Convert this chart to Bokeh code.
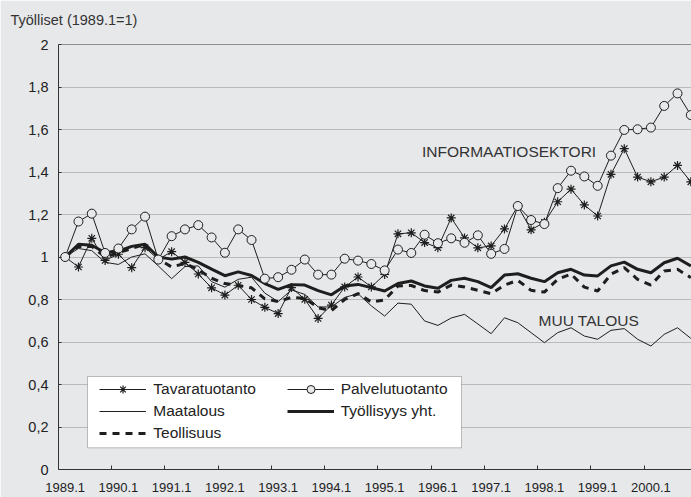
from bokeh.plotting import figure
from bokeh.models import (FixedTicker, Range1d, Legend, LegendItem, Label, Span,
                          BoxAnnotation, ColumnDataSource)
from bokeh.embed import file_html
from bokeh.resources import INLINE

# ---------------- data (quarterly, 1989.1 = 1) ----------------
quarters = list(range(48))
tick_labels = ["1989.1", "1990.1", "1991.1", "1992.1", "1993.1", "1994.1",
               "1995.1", "1996.1", "1997.1", "1998.1", "1999.1", "2000.1"]
y_ticks = [0, 0.2, 0.4, 0.6, 0.8, 1.0, 1.2, 1.4, 1.6, 1.8, 2.0]
y_tick_labels = ["0", "0,2", "0,4", "0,6", "0,8", "1", "1,2", "1,4", "1,6", "1,8", "2"]

tavaratuotanto = [1.000, 0.953, 1.088, 0.984, 1.013, 0.950, 1.044, 0.989, 1.025, 0.975,
                  0.920, 0.855, 0.821, 0.867, 0.800, 0.763, 0.734, 0.856, 0.801, 0.711,
                  0.774, 0.859, 0.906, 0.859, 0.918, 1.109, 1.114, 1.068, 1.044, 1.184,
                  1.090, 1.043, 1.052, 1.132, 1.240, 1.128, 1.163, 1.260, 1.319, 1.245,
                  1.193, 1.389, 1.510, 1.376, 1.354, 1.376, 1.431, 1.354]
palvelutuotanto = [1.000, 1.167, 1.204, 1.019, 1.040, 1.130, 1.190, 0.988, 1.098, 1.130,
                   1.150, 1.092, 1.020, 1.130, 1.080, 0.898, 0.905, 0.940, 0.988, 0.917,
                   0.917, 0.992, 0.983, 0.967, 0.937, 1.035, 1.019, 1.105, 1.065, 1.088,
                   1.067, 1.102, 1.015, 1.038, 1.240, 1.174, 1.155, 1.324, 1.406, 1.379,
                   1.335, 1.477, 1.598, 1.601, 1.609, 1.711, 1.770, 1.668]
maatalous = [1.000, 1.040, 1.030, 0.975, 0.965, 1.000, 1.015, 0.958, 0.898, 0.955,
             0.958, 0.884, 0.858, 0.895, 0.905, 0.830, 0.790, 0.845, 0.824, 0.765,
             0.765, 0.810, 0.827, 0.770, 0.722, 0.783, 0.778, 0.699, 0.678, 0.713,
             0.730, 0.685, 0.639, 0.714, 0.691, 0.644, 0.597, 0.644, 0.667, 0.628,
             0.613, 0.655, 0.663, 0.613, 0.581, 0.636, 0.667, 0.617]
teollisuus = [1.000, 1.050, 1.050, 1.000, 1.020, 1.040, 1.060, 0.990, 0.953, 0.970,
              0.940, 0.900, 0.875, 0.866, 0.855, 0.803, 0.790, 0.810, 0.806, 0.761,
              0.748, 0.800, 0.828, 0.788, 0.798, 0.864, 0.866, 0.842, 0.835, 0.868,
              0.859, 0.843, 0.827, 0.868, 0.890, 0.843, 0.835, 0.895, 0.920, 0.858,
              0.840, 0.919, 0.950, 0.895, 0.868, 0.934, 0.942, 0.903]
tyollisyys = [1.000, 1.060, 1.055, 1.020, 1.027, 1.050, 1.060, 1.000, 0.990, 1.000,
              0.975, 0.943, 0.912, 0.930, 0.913, 0.875, 0.848, 0.870, 0.868, 0.842,
              0.822, 0.864, 0.871, 0.856, 0.840, 0.875, 0.887, 0.864, 0.853, 0.890,
              0.900, 0.884, 0.856, 0.915, 0.921, 0.900, 0.884, 0.926, 0.942, 0.915,
              0.911, 0.958, 0.976, 0.942, 0.926, 0.973, 0.994, 0.958]

# ---------------- styling ----------------
BG = "#e7e8ea"
INK = "#1e1e1e"
FONT = "Liberation Sans"

src = ColumnDataSource(dict(x=quarters, tav=tavaratuotanto, pal=palvelutuotanto,
                            maa=maatalous, teo=teollisuus, tyo=tyollisyys))

p = figure(width=691, height=497, output_backend="svg", toolbar_location=None,
           x_range=Range1d(-0.5, 47.05), y_range=Range1d(0, 2),
           min_border_left=58, min_border_right=0, min_border_top=44,
           min_border_bottom=28)
p.background_fill_color = BG
p.border_fill_color = BG
p.outline_line_color = None

# title (a trailing blank line lifts it away from the frame)
p.title.text = "Työlliset (1989.1=1)\n "
p.title.align = "left"
p.title.offset = -48
p.title.text_font = FONT
p.title.text_font_size = "14.5px"
p.title.text_line_height = 0.75
p.title.text_font_style = "normal"
p.title.text_color = "#333333"
p.title.standoff = 10

# axes
label_ticks = [4 * k for k in range(len(tick_labels))]
minor = [4 * k - 0.5 for k in range(1, 13)]
p.xaxis.ticker = FixedTicker(ticks=label_ticks, minor_ticks=minor)
p.xaxis.major_label_overrides = {t: l for t, l in zip(label_ticks, tick_labels)}
p.xaxis.major_tick_line_color = None
p.xaxis.minor_tick_in = 4
p.xaxis.minor_tick_out = 0
p.xaxis.minor_tick_line_color = "#333333"
p.xaxis.major_label_text_font = FONT
p.xaxis.major_label_text_font_size = "13px"
p.xaxis.major_label_text_color = "#222222"
p.xaxis.major_label_standoff = 7
p.xaxis.axis_line_color = "#333333"

p.yaxis.ticker = FixedTicker(ticks=y_ticks, minor_ticks=[])
p.yaxis.major_label_overrides = {t: l for t, l in zip(y_ticks, y_tick_labels)}
p.yaxis.major_tick_in = 3
p.yaxis.major_tick_out = 0
p.yaxis.major_tick_line_color = "#333333"
p.yaxis.major_label_text_font = FONT
p.yaxis.major_label_text_font_size = "14.5px"
p.yaxis.major_label_text_color = "#222222"
p.yaxis.major_label_standoff = 10
p.yaxis.axis_line_color = "#333333"

p.xgrid.visible = False
p.ygrid.ticker = FixedTicker(ticks=y_ticks[1:-1])
p.ygrid.grid_line_color = "#8c8c8c"
p.ygrid.grid_line_dash = "1 1"
p.ygrid.grid_line_width = 1

p.add_layout(Span(location=2, dimension="width", line_color="#333333", line_width=1))

# series
r_teo = p.line("x", "teo", source=src, line_color=INK, line_width=3, line_dash="7 6")
r_maa = p.line("x", "maa", source=src, line_color=INK, line_width=1)
r_tyo = p.line("x", "tyo", source=src, line_color=INK, line_width=3)
r_tav_l = p.line("x", "tav", source=src, line_color=INK, line_width=1)
r_tav_m = p.scatter("x", "tav", source=src, marker="asterisk", size=9,
                    line_color=INK, line_width=1.2)
r_pal_l = p.line("x", "pal", source=src, line_color=INK, line_width=1)
r_pal_m = p.scatter("x", "pal", source=src, marker="circle", size=9,
                    line_color=INK, line_width=1, fill_color=BG)

# annotations
p.add_layout(Label(x=26.8, y=1.496, text="INFORMAATIOSEKTORI", text_font=FONT,
                   text_font_size="15.5px", text_color="#333333",
                   text_baseline="alphabetic"))
p.add_layout(Label(x=35.56, y=0.701, text="MUU TALOUS", text_font=FONT,
                   text_font_size="15.5px", text_color="#333333",
                   text_baseline="alphabetic"))

# legend box
p.add_layout(BoxAnnotation(left=29, right=403, bottom=21.7, top=93,
                           left_units="screen", right_units="screen",
                           bottom_units="screen", top_units="screen",
                           fill_color="white", fill_alpha=1,
                           line_color="#333333", line_width=1, level="annotation"))

common = dict(background_fill_alpha=0, border_line_color=None, padding=0, margin=0,
              glyph_width=47, glyph_height=20, label_height=20, spacing=2,
              label_standoff=7, label_text_font=FONT, label_text_font_size="15.5px",
              label_text_color="#222222")
leg_a = Legend(items=[LegendItem(label="Tavaratuotanto", renderers=[r_tav_l, r_tav_m]),
                      LegendItem(label="Maatalous", renderers=[r_maa]),
                      LegendItem(label="Teollisuus", renderers=[r_teo])],
               location=(41.3, 26.5), **common)
leg_b = Legend(items=[LegendItem(label="Palvelutuotanto", renderers=[r_pal_l, r_pal_m]),
                      LegendItem(label="Työllisyys yht.", renderers=[r_tyo])],
               location=(228.7, 48.5), **common)
p.add_layout(leg_a)
p.add_layout(leg_b)

open("out.html", "w").write(file_html(p, INLINE))
